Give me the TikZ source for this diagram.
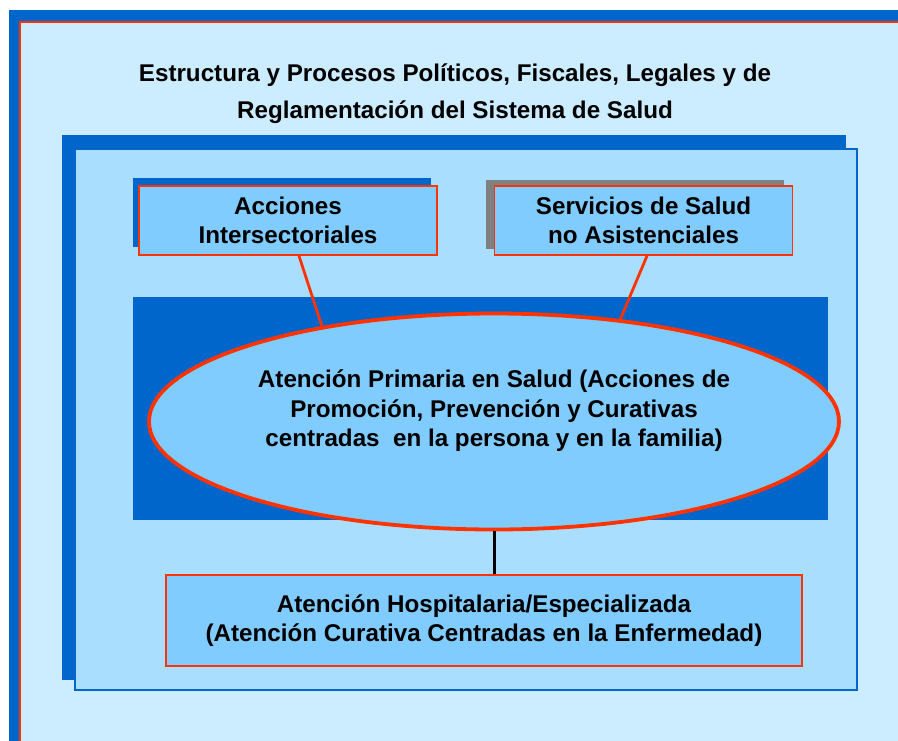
\documentclass[tikz,border=0pt]{standalone}
\usepackage{fontspec}
\setmainfont{Liberation Sans}
\usetikzlibrary{shapes.geometric}
\definecolor{salud_dark}{RGB}{0, 102, 204}
\definecolor{salud_outer}{RGB}{204, 236, 255}
\definecolor{salud_mid}{RGB}{170, 222, 255}
\definecolor{salud_box}{RGB}{128, 204, 255}
\definecolor{salud_red}{RGB}{255, 51, 0}
\definecolor{salud_grey}{RGB}{128, 128, 128}
\newcommand{\saludfont}{\bfseries\fontsize{24.2}{29.5}\selectfont}
\tikzstyle{title}=[align=center,inner sep=0pt,
  font=\bfseries\fontsize{24.2}{37}\selectfont]
\tikzstyle{box}=[rectangle,fill=salud_box,draw=salud_red,line width=1.8pt,
  inner sep=0pt,align=center,font=\saludfont,minimum width=298pt,minimum height=69pt]
\tikzstyle{aps}=[ellipse,fill=salud_box,draw=salud_red,line width=3.8pt,
  inner sep=0pt,minimum width=690pt,minimum height=216pt]
\tikzstyle{apstext}=[align=center,inner sep=0pt,font=\saludfont]
\tikzstyle{link}=[draw=salud_red,line width=2.8pt]
\begin{document}
\begin{tikzpicture}[x=1pt, y=-1pt]
  \useasboundingbox (0, 0) rectangle (898, 740);
  \clip (0, 0) rectangle (898, 740);
  % frames
  \fill [salud_dark] (9, 10) rectangle (920, 760);
  \draw [fill=salud_outer, draw=salud_red, line width=1.2pt] (20, 22) rectangle (920, 760);
  \fill [salud_dark] (62, 135) rectangle (846, 680);
  \draw [fill=salud_mid, draw=salud_dark, line width=2.4pt] (75, 149) rectangle (857, 690);
  \node [style=title] (title) at (455, 94) {Estructura y Procesos Políticos, Fiscales, Legales y de\\
    Reglamentación del Sistema de Salud};
  % shadows
  \fill [salud_dark] (133, 178) rectangle (431, 247);
  \fill [salud_grey] (486, 180) rectangle (784, 249);
  \fill [salud_dark] (133, 297) rectangle (828, 520);
  \node [style=box] (acc) at (288, 220.5) {Acciones\\Intersectoriales};
  \node [style=box] (serv) at (643.5, 220.5) {Servicios de Salud\\no Asistenciales};
  \node [style=aps] (aps) at (494, 421.5) {};
  \node [style=apstext] (apstext) at (494, 411) {Atención Primaria en Salud (Acciones de\\
    Promoción, Prevención y Curativas\\centradas\ \ en la persona y en la familia)};
  \node [style=box, minimum width=636pt, minimum height=91pt] (hosp) at (484, 620.5)
    {Atención Hospitalaria/Especializada\\(Atención Curativa Centradas en la Enfermedad)};
  \draw [style=link] ([xshift=11pt]acc.south) -- (aps.151);
  \draw [style=link] ([xshift=3.5pt]serv.south) -- (aps.39);
  \draw [line width=3pt] (aps.south) -- (aps.south |- hosp.north);
\end{tikzpicture}
\end{document}
